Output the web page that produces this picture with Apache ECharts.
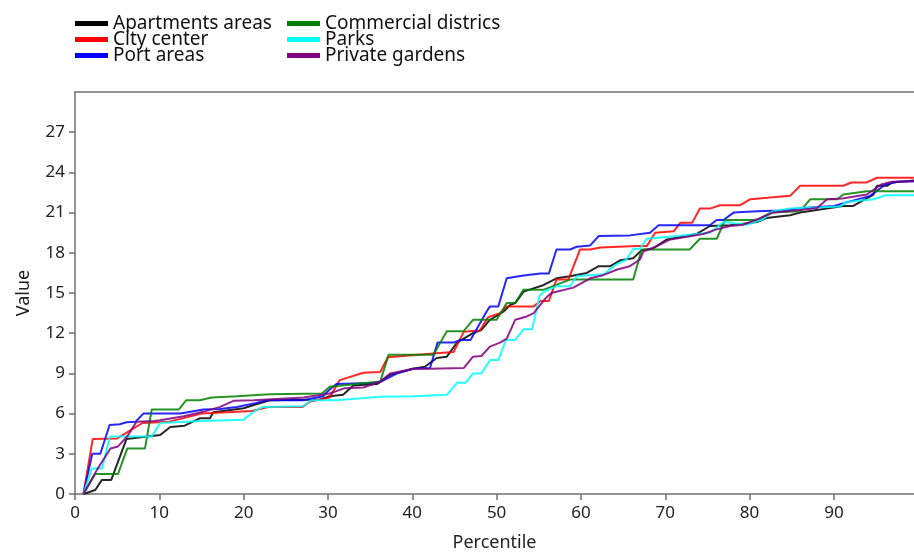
<!DOCTYPE html>
<html>
<head>
<meta charset="utf-8">
<script src="https://cdn.jsdelivr.net/npm/echarts@6/dist/echarts.min.js"></script>
<style>
  html, body { margin: 0; padding: 0; background: #fff; }
  #chart { width: 914px; height: 554px; }
</style>
</head>
<body>
<div id="chart"></div>
<script>
// 数据：[百分位, 值]
const apartmentsAreas = [[1,0],[2.4,0.3],[3.2,1.05],[4.3,1.05],[6.1,4.1],[10.1,4.4],[11.3,5.0],[13,5.1],[14.8,5.65],[16,5.65],[16.4,6.1],[20,6.4],[21.5,6.7],[23.1,7.0],[29.1,7.05],[30.2,7.3],[31.8,7.4],[33,8.1],[35.8,8.2],[37.4,8.9],[40.1,9.35],[41.5,9.5],[42.9,10.15],[44.1,10.25],[45.3,11.3],[47.2,12.0],[48.2,12.25],[49.2,13.0],[50.8,13.6],[51.6,14.1],[52.2,14.25],[53.2,15.1],[55.6,15.6],[57.1,16.1],[58.7,16.25],[60.7,16.5],[62.1,17.0],[63.5,17.0],[64.7,17.45],[66.2,17.6],[67.2,18.2],[68.5,18.3],[70.2,19.0],[73.7,19.4],[75.3,20.0],[77.7,20.05],[80.9,20.3],[82,20.6],[84.8,20.8],[86,21.0],[91.1,21.5],[92.3,21.5],[94.7,22.35],[95.1,23.0],[96.3,23.0],[96.9,23.25],[99.6,23.4]];
const cityCenter = [[1,0],[2.1,4.1],[5,4.15],[8,5.3],[11.2,5.4],[15,6.0],[21,6.2],[23,6.5],[27,6.5],[27.9,6.9],[30.2,7.2],[31.4,8.5],[34.2,9.05],[36.2,9.1],[37.1,10.2],[42.9,10.5],[44.9,10.6],[46.1,12.1],[48,12.2],[49,13.2],[50.4,13.5],[51.2,14.0],[54.4,14.0],[55.2,14.4],[56.2,14.4],[57.1,16.0],[58.5,16.0],[59.9,18.25],[61.1,18.25],[62.3,18.4],[66.6,18.5],[67.8,18.5],[68.8,19.5],[71,19.6],[71.8,20.25],[73.2,20.25],[74.1,21.3],[75.3,21.3],[76.5,21.55],[78.9,21.55],[80.1,22.0],[82.1,22.1],[84.8,22.25],[86,23.0],[91.1,23.0],[92.1,23.25],[93.9,23.25],[95.1,23.6],[99.6,23.6]];
const portAreas = [[1,0],[2.05,3.0],[3,3.0],[4.1,5.15],[5.3,5.2],[6.1,5.35],[7.2,5.4],[8.1,6.0],[12.5,6.0],[15.2,6.3],[17.2,6.35],[19.2,6.5],[21.5,6.8],[22.7,7.0],[27.1,7.0],[29.4,7.3],[30.2,7.8],[31,8.2],[36,8.3],[38.2,9.0],[40.1,9.35],[42.1,9.4],[43,11.3],[44.9,11.3],[45.7,11.5],[46.9,11.5],[48.8,13.6],[49.2,14.0],[50.2,14.0],[51.2,16.1],[53.2,16.3],[55.2,16.45],[56.2,16.45],[57.1,18.25],[58.7,18.25],[59.5,18.45],[61.1,18.55],[62.1,19.25],[65.8,19.3],[68.2,19.5],[69.2,20.05],[75.3,20.05],[76.1,20.45],[76.9,20.45],[78.1,21.0],[80.9,21.1],[83.6,21.15],[86.4,21.35],[90,21.5],[94.3,22.25],[96.1,23.1],[97.5,23.3],[99.6,23.35]];
const commercialDistrics = [[1,0],[2.4,1.5],[5.1,1.5],[6.2,3.4],[8.3,3.4],[9.1,6.3],[12.3,6.3],[13.2,7.0],[14.8,7.0],[16.2,7.2],[19.2,7.3],[23.1,7.45],[29.3,7.5],[30.2,8.0],[36.2,8.4],[37.2,10.4],[42.5,10.4],[44.1,12.15],[46.1,12.15],[47.2,13.0],[50,13.0],[51.2,14.25],[52.2,14.25],[53.2,15.25],[55.6,15.25],[58.7,16.0],[66.2,16.0],[67.2,18.25],[72.9,18.25],[74.1,19.05],[76.1,19.05],[77.1,20.45],[80.9,20.45],[82.5,21.0],[86,21.1],[87.2,22.0],[90.4,22.0],[91.1,22.35],[93.9,22.6],[99.6,22.6]];
const parks = [[1,0],[2,1.9],[3.2,1.9],[4.15,4.3],[9.1,4.3],[10.1,5.3],[15,5.45],[20,5.55],[21.2,6.15],[22.3,6.5],[27.1,6.55],[28,7.0],[31,7.0],[36.2,7.25],[40.1,7.3],[44.1,7.4],[45.3,8.3],[46.3,8.3],[47.2,9.0],[48.2,9.0],[49.2,10.0],[50.2,10.0],[51.1,11.5],[52.2,11.5],[53.2,12.3],[54.2,12.3],[55.1,14.8],[55.6,15.1],[57.1,15.5],[58.7,15.5],[59.5,16.25],[62.7,16.4],[64.1,17.1],[65.4,17.5],[66.2,18.3],[67,18.3],[67.8,19.05],[71.4,19.25],[75.3,19.5],[76.9,20.3],[79.7,20.1],[81.6,20.5],[82.8,21.1],[84.8,21.3],[90.7,21.45],[91.5,21.8],[94.7,22.0],[96.1,22.3],[99.6,22.3]];
const privateGardens = [[1,0],[2.6,1.8],[4.2,3.4],[5.1,3.55],[6.2,4.3],[7.3,5.4],[9.4,5.45],[10.1,5.5],[12.9,5.8],[15.3,6.15],[17.2,6.5],[18.8,6.95],[21.2,7.0],[27.1,7.2],[30.2,7.5],[32,7.9],[34.2,7.95],[36.2,8.4],[37.4,9.0],[40.1,9.35],[42.1,9.35],[46.1,9.4],[47.2,10.25],[48.2,10.3],[49.2,11.0],[50.4,11.3],[51.2,11.6],[52.2,13.0],[53.6,13.25],[54.4,13.5],[55.8,14.6],[56.5,15.0],[59.1,15.4],[61.1,16.1],[62.5,16.3],[64.3,16.75],[65.8,17.0],[67,17.5],[67.4,18.1],[69,18.5],[70.6,19.0],[72.6,19.2],[74.5,19.4],[76.1,19.75],[77.7,20.0],[79.3,20.1],[80.9,20.5],[82.8,21.0],[86,21.2],[88,21.35],[89.2,22.0],[91,22.05],[93.9,22.35],[95.6,23.1],[96.9,23.3],[99.6,23.35]];

const seriesNames = ['Apartments areas', 'City center', 'Port areas', 'Commercial districs', 'Parks', 'Private gardens'];
const seriesColors = ['#000000', '#ff0000', '#0000ff', '#008000', '#00ffff', '#800080'];
const seriesData = [apartmentsAreas, cityCenter, portAreas, commercialDistrics, parks, privateGardens];
const yTicks = [0, 3, 6, 9, 12, 15, 18, 21, 24, 27];

const chart = echarts.init(document.getElementById('chart'));

const axisGray = '#707070';
const fontFamily = '"Noto Sans", "Open Sans", sans-serif';

const legendCommon = {
  orient: 'vertical',
  top: 9,
  itemWidth: 33,
  itemHeight: 5,
  itemGap: -3,
  icon: 'rect',
  textStyle: { fontSize: 19, lineHeight: 17, color: '#111', fontFamily: fontFamily }
};

chart.setOption({
  animation: false,
  backgroundColor: '#fff',
  legend: [
    Object.assign({ left: 70, data: seriesNames.slice(0, 3) }, legendCommon),
    Object.assign({ left: 282, data: seriesNames.slice(3) }, legendCommon)
  ],
  grid: { left: 75, right: 0, top: 92, bottom: 60, outerBoundsMode: 'none' },
  xAxis: [
    {
      type: 'value',
      min: 0,
      max: 99.5,
      interval: 10,
      name: 'Percentile',
      nameLocation: 'middle',
      nameGap: 40,
      nameTextStyle: { fontSize: 18, color: '#222', fontFamily: fontFamily },
      axisLine: { show: true, onZero: false, lineStyle: { color: axisGray, width: 1.5 } },
      axisTick: { show: true, length: 6, lineStyle: { color: axisGray, width: 1.5 } },
      axisLabel: { fontSize: 17, color: '#222', margin: 11, fontFamily: fontFamily, showMaxLabel: false },
      splitLine: { show: false }
    },
    {
      type: 'value',
      position: 'top',
      min: 0,
      max: 99.5,
      axisLine: { show: true, onZero: false, lineStyle: { color: axisGray, width: 1.5 } },
      axisTick: { show: false },
      axisLabel: { show: false },
      splitLine: { show: false }
    }
  ],
  yAxis: {
    type: 'value',
    min: 0,
    max: 30,
    interval: 3,
    name: 'Value',
    nameLocation: 'middle',
    nameGap: 42,
    nameTextStyle: { fontSize: 18, color: '#222', fontFamily: fontFamily },
    axisLine: { show: true, onZero: false, lineStyle: { color: axisGray, width: 1.5 } },
    axisTick: { show: true, length: 6, customValues: yTicks, lineStyle: { color: axisGray, width: 1.5 } },
    axisLabel: { fontSize: 17, color: '#222', margin: 10, fontFamily: fontFamily, customValues: yTicks },
    splitLine: { show: false }
  },
  series: seriesNames.map((name, i) => ({
    name: name,
    type: 'line',
    data: seriesData[i],
    symbol: 'none',
    color: seriesColors[i],
    lineStyle: { width: 2, color: seriesColors[i], opacity: 0.85 }
  }))
});
</script>
</body>
</html>
